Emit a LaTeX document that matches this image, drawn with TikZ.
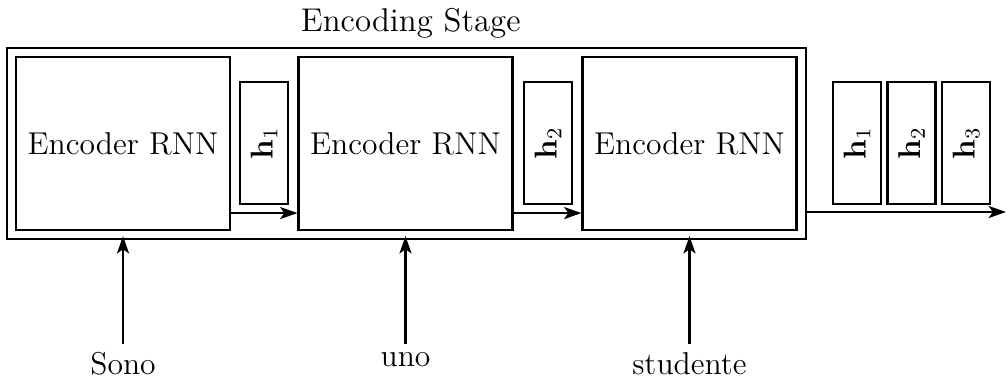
\documentclass[12pt,tikz,border=0pt]{standalone}
\usetikzlibrary{arrows.meta,fit,positioning}
\def\pxu{0.380pt}
\tikzset{
  pic unit/.style={x=\pxu, y=-\pxu},
  line/.style={line width=0.8pt},
  arr/.style={line, -{Stealth[length=6.6pt,width=4.6pt,inset=1.6pt]}},
  encbox/.style={draw, line, minimum width={214*\pxu}, minimum height={173*\pxu}, inner sep=0pt},
  hbox/.style={draw, line, minimum width={48*\pxu}, minimum height={122*\pxu}, inner sep=0pt},
  word/.style={anchor=north, inner sep=3pt},
}
\newcommand{\hvec}[1]{\rotatebox{90}{$\mathbf{h}_{#1}$}}
\begin{document}
\begin{tikzpicture}[pic unit]
  \useasboundingbox (0,0) rectangle (1007,383);

  % recurrent encoder cells
  \node[encbox] (enc1) at (123,143.5) {Encoder RNN};
  \node[encbox] (enc2) at (405.5,143.5) {Encoder RNN};
  \node[encbox] (enc3) at (689.5,143.5) {Encoder RNN};

  % hidden states passed between cells
  \node[hbox] (h1) at (264,143) {\hvec{1}};
  \node[hbox] (h2) at (548,143) {\hvec{2}};

  % stage frame with its title
  \node[draw, line, fit=(enc1)(enc3), inner sep={8*\pxu},
        label={[inner sep=3pt, xshift={4.5*\pxu}, font=\fontsize{12.5}{15}\selectfont]above:Encoding Stage}] (stage) {};

  % collected hidden states
  \node[hbox] (o1) at (857,143) {\hvec{1}};
  \node[hbox] (o2) at (911.5,143) {\hvec{2}};
  \node[hbox] (o3) at (966,143) {\hvec{3}};

  % input words
  \node[word] (w1) at (123,344) {Sono};
  \node[word] (w2) at (405.5,344) {uno};
  \node[word] (w3) at (689.5,344) {studente};

  % connections
  \draw[arr] ([yshift={18*\pxu}]enc1.south east) -- ([yshift={18*\pxu}]enc2.south west);
  \draw[arr] ([yshift={18*\pxu}]enc2.south east) -- ([yshift={18*\pxu}]enc3.south west);
  \coordinate (out) at (1006,212);
  \draw[arr] (stage.east |- out) -- (out);

  \foreach \w in {w1,w2,w3}
    \draw[arr] (\w.north) -- ([yshift={4*\pxu}]\w.north |- stage.south);
\end{tikzpicture}
\end{document}
